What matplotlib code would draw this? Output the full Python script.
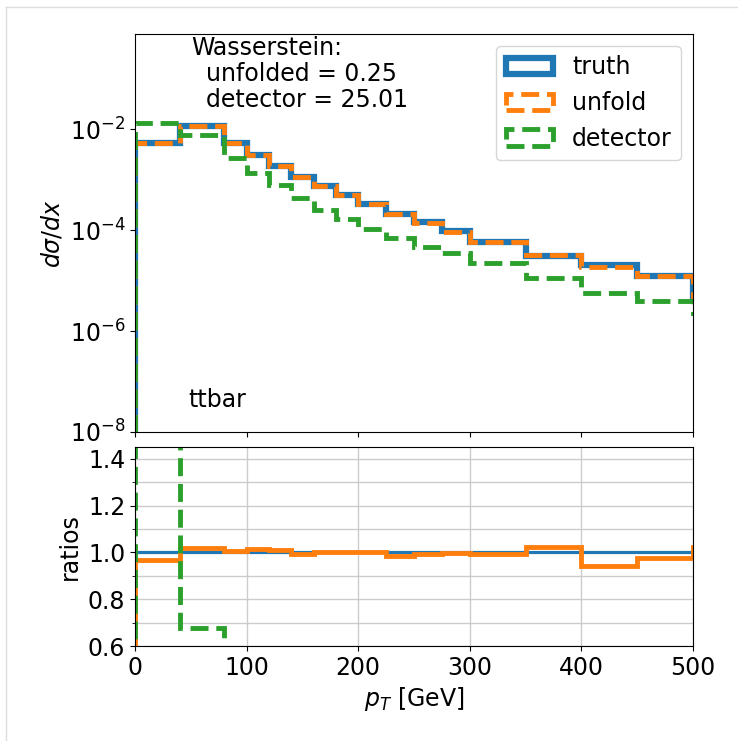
import matplotlib
matplotlib.use("Agg")
import matplotlib.pyplot as plt
from matplotlib.ticker import MultipleLocator, NullLocator
from matplotlib.lines import Line2D

# bin edges in pT [GeV] (last bin lies outside the shown range)
edges = [0, 40, 80, 100, 120, 140, 160, 180, 200, 225, 250, 275, 300, 350, 400, 450, 500, 600]

truth = [5.4e-3, 1.16e-2, 5.28e-3, 3.1e-3, 1.87e-3, 1.15e-3, 7.5e-4, 5.0e-4,
         3.3e-4, 2.1e-4, 1.42e-4, 9.4e-5, 5.8e-5, 3.1e-5, 2.0e-5, 1.25e-5, 4.8e-6]
unfold = [5.22e-3, 1.182e-2, 5.30e-3, 3.15e-3, 1.887e-3, 1.143e-3, 7.51e-4, 5.0e-4,
          3.3e-4, 2.07e-4, 1.413e-4, 9.36e-5, 5.77e-5, 3.17e-5, 1.88e-5, 1.22e-5, 4.92e-6]
detector = [1.3e-2, 7.85e-3, 2.67e-3, 1.35e-3, 7.9e-4, 4.3e-4, 2.5e-4, 1.67e-4,
            1.06e-4, 6.9e-5, 4.7e-5, 3.6e-5, 2.2e-5, 1.12e-5, 5.6e-6, 3.9e-6, 2.3e-6]

w_unfolded = 0.25
w_detector = 25.01
process = "ttbar"

plt.rcParams['font.size'] = 17

fig = plt.figure(figsize=(7.38, 7.41), dpi=100)
W, H = 738, 741

# light frame like a notebook output cell
fig.add_artist(Line2D([6 / W, 6 / W], [0, 1 - 7 / H], transform=fig.transFigure, color='#dddddd', lw=1))
fig.add_artist(Line2D([6 / W, 1], [1 - 7 / H, 1 - 7 / H], transform=fig.transFigure, color='#dddddd', lw=1))

ax1 = fig.add_axes([135 / W, 1 - 432 / H, 558 / W, 398 / H])
ax2 = fig.add_axes([135 / W, 1 - 646 / H, 558 / W, 199 / H], sharex=ax1)

centers = edges[:-1]
ax1.hist(centers, edges, weights=truth, histtype='step', lw=4.5, color='C0', label='truth')
ax1.hist(centers, edges, weights=unfold, histtype='step', lw=3.5, ls='--', color='C1', label='unfold')
ax1.hist(centers, edges, weights=detector, histtype='step', lw=3.5, ls='--', color='C2', label='detector')
ax1.set_yscale('log')
ax1.set_ylim(1e-8, 0.77)
ax1.set_xlim(0, 500)
ax1.set_yticks([1e-8, 1e-6, 1e-4, 1e-2])
ax1.yaxis.set_minor_locator(NullLocator())
ax1.set_ylabel(r'$d\sigma/dx$')
ax1.tick_params(labelbottom=False)
ax1.legend(loc='upper right')
ax1.text(0.1, 0.995, 'Wasserstein:\n  unfolded = %.2f\n  detector = %.2f' % (w_unfolded, w_detector),
         transform=ax1.transAxes, va='top', ha='left', linespacing=1.1)
ax1.text(0.095, 0.05, process, transform=ax1.transAxes, va='bottom', ha='left')

r_unfold = [u / t for u, t in zip(unfold, truth)]
r_det = [d / t for d, t in zip(detector, truth)]
ax2.axhline(1.0, color='C0', lw=2.3)
ax2.hist(centers, edges, weights=r_unfold, histtype='step', lw=3.5, color='C1')
ax2.hist(centers, edges, weights=r_det, histtype='step', lw=3.5, ls='--', color='C2')
ax2.set_ylim(0.6, 1.45)
ax2.set_xlim(0, 500)
ax2.set_xticks([0, 100, 200, 300, 400, 500])
ax2.yaxis.set_major_locator(MultipleLocator(0.2))
ax2.yaxis.set_minor_locator(MultipleLocator(0.1))
ax2.grid(which='both', axis='y', color='#cccccc', lw=1)
ax2.grid(which='major', axis='x', color='#cccccc', lw=1)
ax2.set_axisbelow(True)
ax2.set_ylabel('ratios')
ax2.set_xlabel(r'$p_T$ [GeV]')

fig.savefig('out.png', dpi=100)
